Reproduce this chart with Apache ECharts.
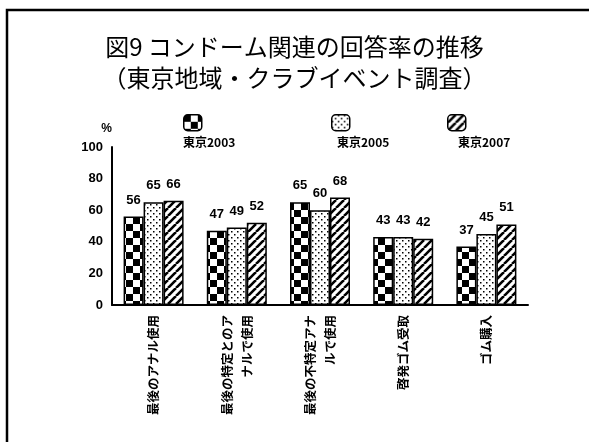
<!DOCTYPE html>
<html>
<head>
<meta charset="utf-8">
<script src="https://cdn.jsdelivr.net/npm/echarts@6/dist/echarts.min.js"></script>
<style>html,body{margin:0;padding:0;background:#fff;}#c{width:589px;height:442px;}</style>
</head>
<body>
<div id="c"></div>
<script>
var titleText = '図9 コンドーム関連の回答率の推移\n（東京地域・クラブイベント調査）';
var categories = ['最後のアナル使用', '最後の特定とのア\nナルで使用', '最後の不特定アナ\nルで使用', '啓発ゴム受取', 'ゴム購入'];
var seriesNames = ['東京2003', '東京2005', '東京2007'];
var tokyo2003 = [56, 47, 65, 43, 37];
var tokyo2005 = [65, 49, 60, 43, 45];
var tokyo2007 = [66, 52, 68, 42, 51];
var yTicks = [0, 20, 40, 60, 80, 100];

function makeCanvas(w, h, draw) {
  var c = document.createElement('canvas');
  c.width = w; c.height = h;
  var ctx = c.getContext('2d');
  ctx.fillStyle = '#fff'; ctx.fillRect(0, 0, w, h);
  draw(ctx);
  return c;
}
var checker = makeCanvas(14, 14, function (ctx) {
  ctx.fillStyle = '#000';
  ctx.fillRect(0, 0, 7, 7);
  ctx.fillRect(7, 7, 7, 7);
});
var dots = makeCanvas(6, 6, function (ctx) {
  ctx.fillStyle = '#000';
  ctx.fillRect(0, 0, 1.5, 1.5);
  ctx.fillRect(3, 3, 1.5, 1.5);
});
var stripes = makeCanvas(8, 8, function (ctx) {
  ctx.strokeStyle = '#000';
  ctx.lineWidth = 2.6;
  ctx.beginPath();
  for (var k = -8; k <= 16; k += 8) {
    ctx.moveTo(k, 8); ctx.lineTo(k + 8, 0);
  }
  ctx.stroke();
});
var patterns = [checker, dots, stripes];
var dataSets = [tokyo2003, tokyo2005, tokyo2007];

var chart = echarts.init(document.getElementById('c'), null, {renderer: 'canvas'});
var font = '"Liberation Sans", Arial, "Noto Sans CJK JP", sans-serif';
var cjk = '"Noto Sans CJK JP", sans-serif';

var series = seriesNames.map(function (n, i) {
  return {
    name: n,
    type: 'bar',
    data: dataSets[i],
    barWidth: 20,
    barGap: '0%',
    itemStyle: {
      color: {image: patterns[i], repeat: 'repeat'},
      borderColor: '#000',
      borderWidth: 1.5
    },
    label: {
      show: true,
      position: 'top',
      distance: 10,
      color: '#000',
      fontFamily: font,
      fontWeight: 'bold',
      fontSize: 13
    }
  };
});

var legendX = [178, 326, 442];
var legends = seriesNames.map(function (n, i) {
  return {
    data: [n],
    left: legendX[i],
    top: 109,
    itemWidth: 18,
    itemHeight: 16,
    formatter: function () { return ''; },
    selectedMode: false,
    itemStyle: {borderColor: '#000', borderWidth: 1.5}
  };
});
var legendLabelX = [183, 337, 458];
var graphics = [
  {type: 'rect', shape: {x: 7, y: 10, width: 600, height: 460}, style: {fill: 'none', stroke: '#000', lineWidth: 2.5}, silent: true}
];
seriesNames.forEach(function (n, i) {
  graphics.push({type: 'text', left: legendLabelX[i], top: 136,
    style: {text: n, fill: '#000', font: 'bold 12px ' + cjk}});
});

chart.setOption({
  animation: false,
  backgroundColor: '#fff',
  title: {
    text: titleText,
    left: 'center',
    top: 26,
    textStyle: {fontFamily: cjk, fontSize: 24, fontWeight: 'normal', color: '#000', lineHeight: 31}
  },
  legend: legends,
  graphic: graphics,
  grid: {left: 112, right: 61, top: 147, bottom: 137, containLabel: false},
  xAxis: {
    type: 'category',
    data: categories,
    axisLine: {lineStyle: {color: '#000', width: 2}},
    axisTick: {show: false},
    axisLabel: {rotate: 90, interval: 0, margin: 10, color: '#000', fontFamily: cjk, fontWeight: 'bold', fontSize: 12.5, lineHeight: 20}
  },
  yAxis: {
    type: 'value',
    min: yTicks[0],
    max: yTicks[yTicks.length - 1],
    interval: 20,
    name: '%',
    nameGap: 12,
    nameTextStyle: {color: '#000', fontFamily: font, fontWeight: 'bold', fontSize: 12, align: 'right'},
    axisLine: {show: true, lineStyle: {color: '#000', width: 2}},
    axisTick: {show: false},
    splitLine: {show: false},
    axisLabel: {color: '#000', fontFamily: font, fontWeight: 'bold', fontSize: 13, margin: 9}
  },
  series: series
});
</script>
</body>
</html>
